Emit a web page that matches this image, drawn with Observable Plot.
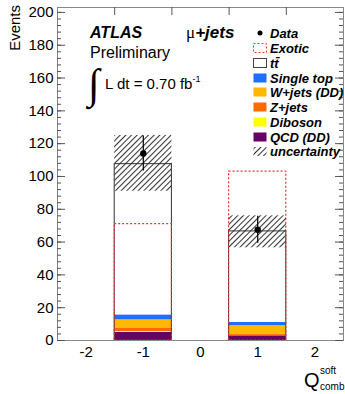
<!DOCTYPE html>
<html>
<head>
<meta charset="utf-8">
<script src="https://cdn.jsdelivr.net/npm/d3@7"></script>
<script src="https://cdn.jsdelivr.net/npm/@observablehq/plot@0.6"></script>
<style>
  html, body { margin: 0; padding: 0; background: #fff; }
  svg { font-family: "Liberation Sans", Arial, Helvetica, sans-serif; }
</style>
</head>
<body>
<div id="chart"></div>
<script>
// ---- data ----
const bins = [-1, 1];
const components = ["QCD (DD)", "Diboson", "Z+jets", "W+jets (DD)", "Single top", "tt\u0304"];
const compColors = ["#660066", "#ffff00", "#ff6a00", "#ffb800", "#1e6eff", "#ffffff"];
const qcd       = [4.9, 2.9];
const diboson   = [0.6, 0.2];
const zjets     = [2.2, 0.6];
const wjets     = [4.9, 5.3];
const singletop = [3.0, 2.0];
const ttbar     = [91.9, 55.5];
const exotic    = [71, 103];
const uncLow    = [91, 56.5];
const uncHigh   = [125, 76];
const dataVal   = [114, 67.5];
const dataErr   = [10.7, 8.2];
const xTicks = [-2, -1, 0, 1, 2];
const yTicks = [0, 20, 40, 60, 80, 100, 120, 140, 160, 180, 200];
const yMinor = d3.range(0, 204, 4);
const binEdges = [-1.5, -0.5, 0.5, 1.5];
const legendItems = ["Data", "Exotic", "tt\u0304", "Single top", "W+jets (DD)", "Z+jets", "Diboson", "QCD (DD)", "uncertainty"];

// ---- build tables ----
const series = [qcd, diboson, zjets, wjets, singletop, ttbar];
const stackRows = [];
bins.forEach((b, i) => components.forEach((c, j) => stackRows.push({bin: b, comp: c, value: series[j][i]})));
const binRows = bins.map((b, i) => ({
  bin: b, total: d3.sum(series, s => s[i]), exotic: exotic[i],
  lo: uncLow[i], hi: uncHigh[i], data: dataVal[i], err: dataErr[i]
}));

const W = 345, H = 394;
const mL = 57, mR = 2, mT = 7, mB = 54;
const fw = W - mL - mR, fh = H - mT - mB;
const red = "#ff2a2a";

const plot = Plot.plot({
  width: W, height: H,
  marginLeft: mL, marginRight: mR, marginTop: mT, marginBottom: mB,
  style: {fontFamily: "Liberation Sans, Arial, sans-serif", background: "#fff"},
  x: {domain: [-2.5, 2.5]},
  y: {domain: [0, 203]},
  color: {domain: components, range: compColors},
  marks: [
    Plot.rectY(stackRows, {x1: d => d.bin - 0.5, x2: d => d.bin + 0.5, y: "value", fill: "comp"}),
    Plot.rectY(binRows, {x1: d => d.bin - 0.5, x2: d => d.bin + 0.5, y: "total", fill: "none", stroke: "#333", strokeWidth: 1}),
    Plot.ruleY([0], {stroke: "#333"}),
    Plot.rectY(binRows, {x1: d => d.bin - 0.5, x2: d => d.bin + 0.5, y: "exotic", fill: "none", stroke: red, strokeDasharray: "2,2", strokeWidth: 1.2}),
    Plot.ruleY([0], {stroke: red, strokeDasharray: "2,2", strokeWidth: 1.2}),
    Plot.rectY(binRows, {x1: d => d.bin - 0.5, x2: d => d.bin + 0.5, y1: "lo", y2: "hi", fill: "url(#hatch)"}),
    Plot.ruleX(binRows, {x: "bin", y1: d => d.data - d.err, y2: d => d.data + d.err, stroke: "#000", strokeWidth: 1.2}),
    Plot.dot(binRows, {x: "bin", y: "data", r: 3.2, fill: "#000"}),
    // frame and ticks
    Plot.frame({stroke: "#888"}),
    Plot.ruleY(yTicks, {y: d => d, insetRight: fw - 8, stroke: "#555"}),
    Plot.ruleY(yMinor, {y: d => d, insetRight: fw - 4, stroke: "#555"}),
    Plot.ruleY(yTicks, {y: d => d, insetLeft: fw - 8, stroke: "#555"}),
    Plot.ruleY(yMinor, {y: d => d, insetLeft: fw - 4, stroke: "#555"}),
    Plot.ruleX(binEdges, {x: d => d, insetBottom: fh - 8, stroke: "#555"}),
    Plot.axisY({ticks: yTicks, tickSize: 0, tickPadding: 4, fontSize: 15, label: null}),
    Plot.axisX({ticks: xTicks, tickSize: 0, tickPadding: 6, fontSize: 15, label: null, tickFormat: d => d < 0 ? "-" + Math.abs(d) : String(d)})
  ]
});

const svg = d3.select(plot);
// hatch pattern
const defs = svg.insert("defs", ":first-child");
const pat = defs.append("pattern").attr("id", "hatch").attr("patternUnits", "userSpaceOnUse")
  .attr("width", 4).attr("height", 4).attr("patternTransform", "rotate(45)");
pat.append("line").attr("x1", 0.5).attr("y1", 0).attr("x2", 0.5).attr("y2", 4)
  .attr("stroke", "#333").attr("stroke-width", 1.1);

const ann = svg.append("g").attr("font-family", "Liberation Sans, Arial, sans-serif")
  .attr("fill", "#000").attr("text-anchor", "start");
// Y label
ann.append("text").attr("transform", "translate(20,5) rotate(-90)").attr("text-anchor", "end")
  .attr("font-size", 15).text("Events");
// ATLAS
ann.append("text").attr("x", 90).attr("y", 38).attr("font-size", 16).attr("font-weight", "bold")
  .attr("font-style", "italic").text("ATLAS");
ann.append("text").attr("x", 90).attr("y", 58).attr("font-size", 16).text("Preliminary");
ann.append("text").attr("x", 88).attr("y", 98).attr("font-size", 42).attr("font-family", "Liberation Serif, serif").text("\u222B");
const lum = ann.append("text").attr("x", 105).attr("y", 89).attr("font-size", 15);
lum.append("tspan").text("L dt = 0.70 fb");
lum.append("tspan").attr("font-size", 9).attr("dy", -7).text("-1");
const mu = ann.append("text").attr("x", 186).attr("y", 38).attr("font-size", 17);
mu.append("tspan").attr("font-family", "Liberation Serif, serif").text("\u03BC");
mu.append("tspan").attr("font-weight", "bold").attr("font-style", "italic").text("+jets");
// x label
ann.append("text").attr("x", 304).attr("y", 387).attr("font-size", 20).text("Q");
ann.append("text").attr("x", 320).attr("y", 374).attr("font-size", 10).text("soft");
ann.append("text").attr("x", 320).attr("y", 390).attr("font-size", 10).text("comb");

// legend
const legY = [33, 48, 63, 78, 92, 107, 122, 137, 151.5];
const lg = svg.append("g").attr("text-anchor", "start");
legendItems.forEach((name, i) => {
  const y = legY[i];
  if (name === "Data") {
    lg.append("circle").attr("cx", 260).attr("cy", y).attr("r", 2.5).attr("fill", "#000");
  } else {
    let fill, stroke = "none", dash = null;
    if (name === "Exotic") { fill = "#fff"; stroke = red; dash = "2,2"; }
    else if (name === "tt\u0304") { fill = "#fff"; stroke = "#444"; }
    else if (name === "uncertainty") { fill = "url(#hatch)"; }
    else { fill = compColors[components.indexOf(name)]; }
    const r = lg.append("rect").attr("x", 253.5).attr("y", y - 4.5).attr("width", 13).attr("height", 9)
      .attr("fill", fill).attr("stroke", stroke);
    if (dash) r.attr("stroke-dasharray", dash);
  }
  lg.append("text").attr("x", 270).attr("y", y + 4.5).attr("font-size", 13)
    .attr("font-weight", "bold").attr("font-style", "italic")
    .attr("font-family", "Liberation Sans, Arial, sans-serif").text(name);
});

document.getElementById("chart").appendChild(plot);
</script>
</body>
</html>
